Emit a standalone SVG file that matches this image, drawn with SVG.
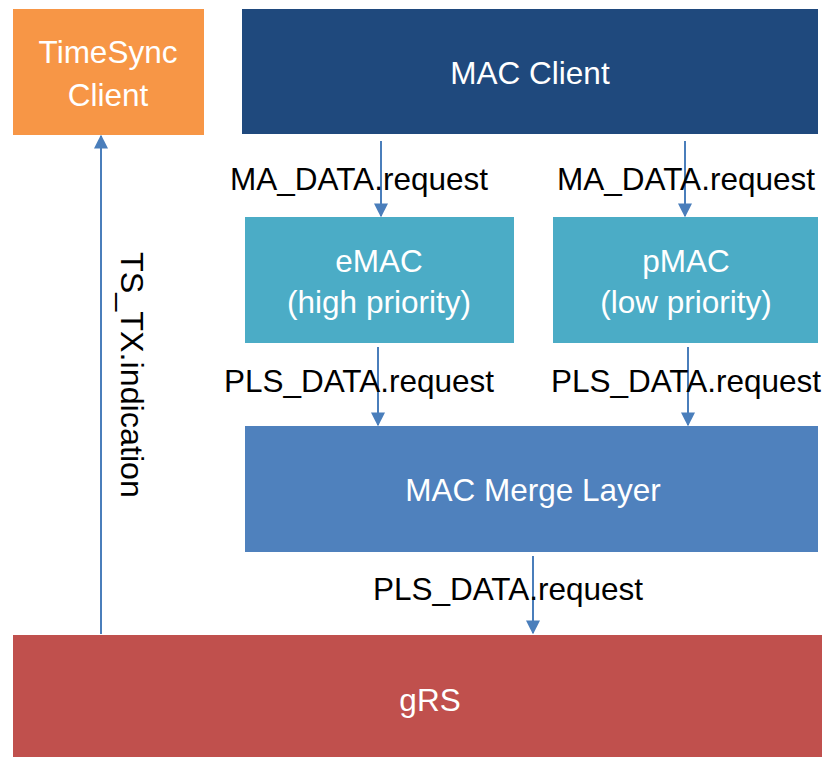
<svg xmlns="http://www.w3.org/2000/svg" width="822" height="757" viewBox="0 0 822 757">
<defs>
<marker id="ah" viewBox="0 0 10 10" refX="9" refY="5" markerWidth="7" markerHeight="7" markerUnits="strokeWidth" orient="auto">
<path d="M0,0 L10,5 L0,10 z" fill="#4A7EBB"/>
</marker>
<style>
.lbl{font-family:"Liberation Sans",Arial,sans-serif;font-size:31.5px;fill:#000;text-anchor:middle}
.wt{font-family:"Liberation Sans",Arial,sans-serif;font-size:31.5px;fill:#fff;text-anchor:middle}
.cn{stroke:#4A7EBB;stroke-width:2;fill:none;marker-end:url(#ah)}
</style>
</defs>
<rect width="822" height="757" fill="#fff"/>
<g id="timesync">
<rect x="13" y="9" width="191" height="126" fill="#F79646"/>
<text class="wt" x="108" y="63">TimeSync</text>
<text class="wt" x="108" y="106">Client</text>
</g>
<g id="macclient">
<rect x="242" y="9" width="576" height="125" fill="#1F497D"/>
<text class="wt" x="530" y="84">MAC Client</text>
</g>
<g id="emac">
<rect x="245" y="217" width="269" height="126" fill="#4BACC6"/>
<text class="wt" x="379" y="272">eMAC</text>
<text class="wt" x="379" y="313">(high priority)</text>
</g>
<g id="pmac">
<rect x="553" y="217" width="265" height="126" fill="#4BACC6"/>
<text class="wt" x="686" y="272">pMAC</text>
<text class="wt" x="686" y="313">(low priority)</text>
</g>
<g id="merge">
<rect x="245" y="426" width="573" height="126" fill="#4F81BD"/>
<text class="wt" x="533" y="501">MAC Merge Layer</text>
</g>
<g id="grs">
<rect x="13" y="635" width="809" height="122" fill="#C0504D"/>
<text class="wt" x="430" y="711">gRS</text>
</g>
<g id="connectors">
<line class="cn" x1="381" y1="141" x2="381" y2="216"/>
<line class="cn" x1="685" y1="141" x2="685" y2="216"/>
<line class="cn" x1="378" y1="347" x2="378" y2="425"/>
<line class="cn" x1="688" y1="347" x2="688" y2="425"/>
<line class="cn" x1="533" y1="556" x2="533" y2="633"/>
<line class="cn" x1="101" y1="634" x2="101" y2="136"/>
<text class="lbl" x="359" y="190">MA_DATA.request</text>
<text class="lbl" x="686" y="190">MA_DATA.request</text>
<text class="lbl" x="359" y="392">PLS_DATA.request</text>
<text class="lbl" x="686" y="392">PLS_DATA.request</text>
<text class="lbl" x="508" y="600">PLS_DATA.request</text>
<text class="lbl" transform="translate(121,375) rotate(90)" textLength="246" lengthAdjust="spacingAndGlyphs">TS_TX.indication</text>
</g>
</svg>
